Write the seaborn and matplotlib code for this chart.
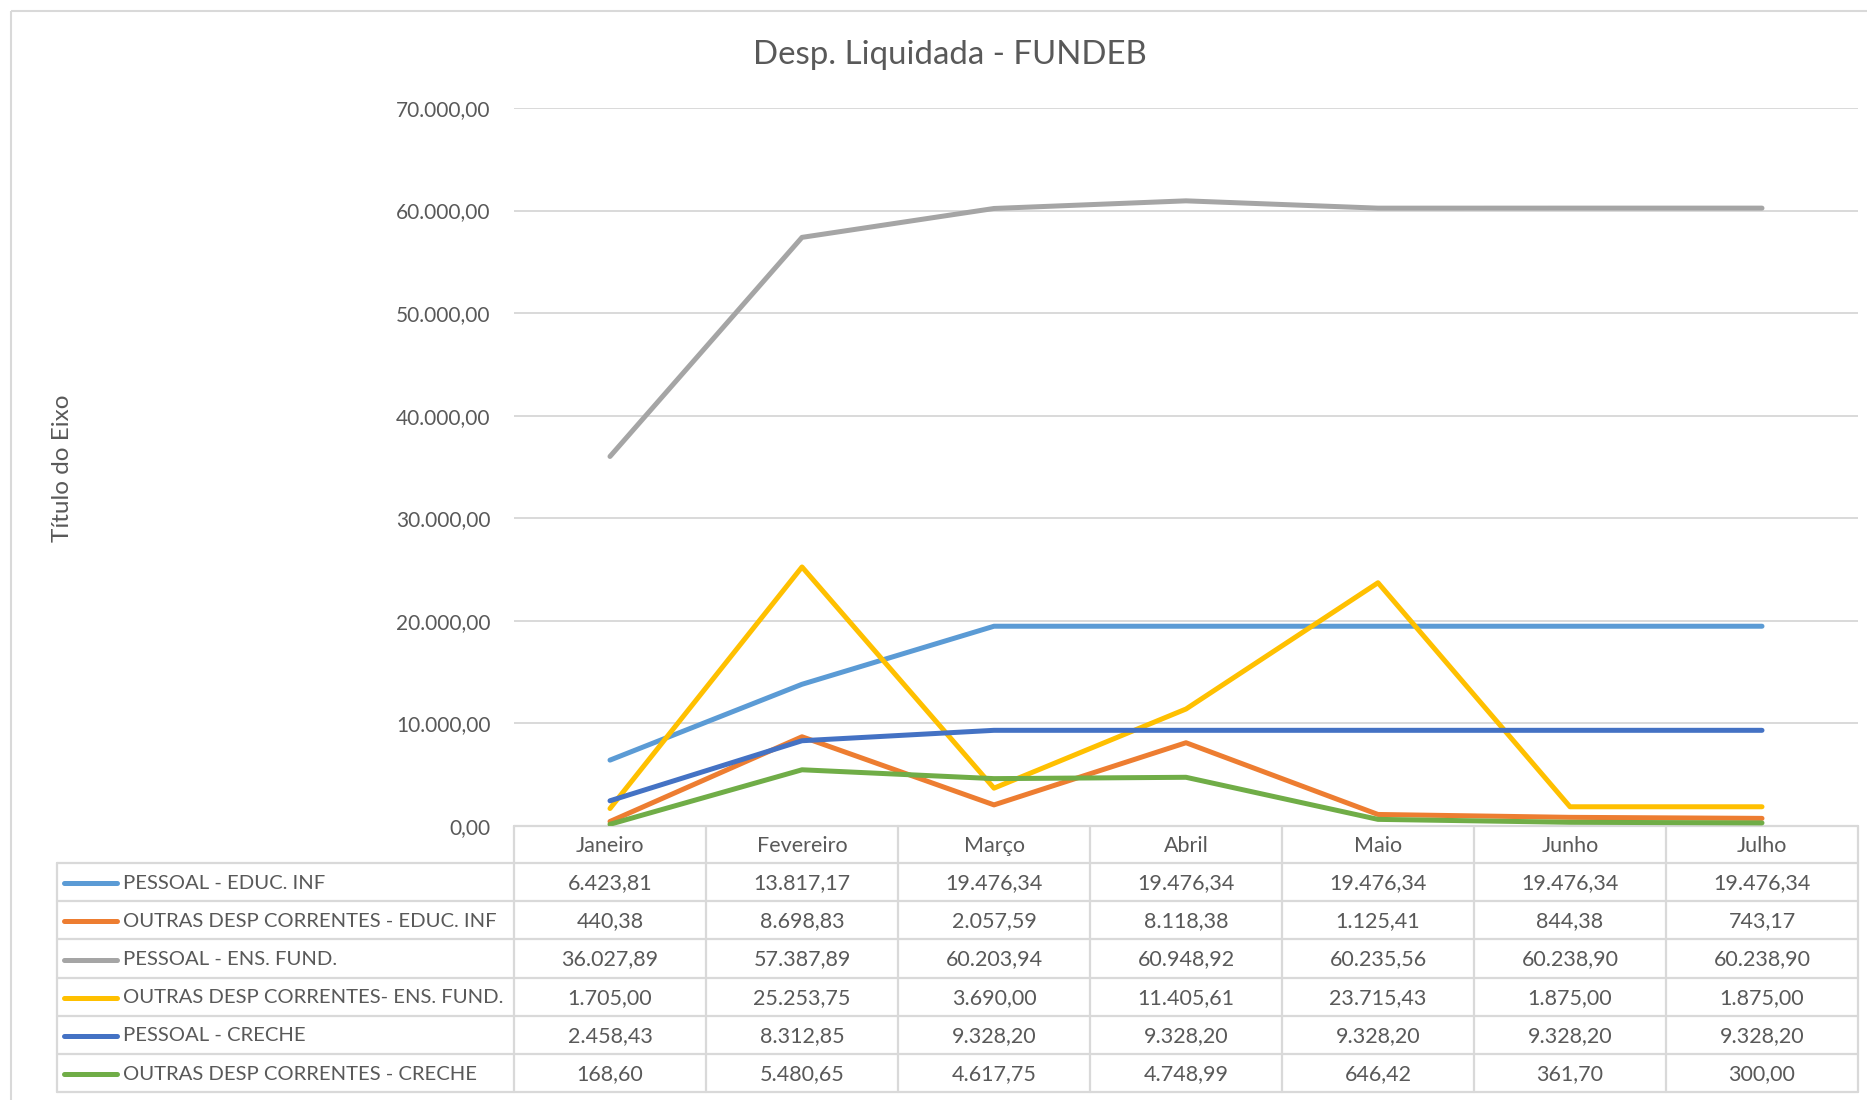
import matplotlib
matplotlib.use("Agg")
import matplotlib.pyplot as plt
import numpy as np
import pandas as pd
import seaborn as sns
from matplotlib.patches import Rectangle
from matplotlib.ticker import FuncFormatter

meses = ["Janeiro", "Fevereiro", "Março", "Abril", "Maio", "Junho", "Julho"]

series = ["PESSOAL - EDUC. INF",
          "OUTRAS DESP CORRENTES - EDUC. INF",
          "PESSOAL - ENS. FUND.",
          "OUTRAS DESP CORRENTES- ENS. FUND.",
          "PESSOAL - CRECHE",
          "OUTRAS DESP CORRENTES - CRECHE"]

pessoal_educ_inf = [6423.81, 13817.17, 19476.34, 19476.34, 19476.34, 19476.34, 19476.34]
outras_educ_inf = [440.38, 8698.83, 2057.59, 8118.38, 1125.41, 844.38, 743.17]
pessoal_ens_fund = [36027.89, 57387.89, 60203.94, 60948.92, 60235.56, 60238.90, 60238.90]
outras_ens_fund = [1705.00, 25253.75, 3690.00, 11405.61, 23715.43, 1875.00, 1875.00]
pessoal_creche = [2458.43, 8312.85, 9328.20, 9328.20, 9328.20, 9328.20, 9328.20]
outras_creche = [168.60, 5480.65, 4617.75, 4748.99, 646.42, 361.70, 300.00]

valores = [pessoal_educ_inf, outras_educ_inf, pessoal_ens_fund,
           outras_ens_fund, pessoal_creche, outras_creche]

cores = ["#5B9BD5", "#ED7D31", "#A5A5A5", "#FFC000", "#4472C4", "#70AD47"]

yticks = [0, 10000, 20000, 30000, 40000, 50000, 60000, 70000]


def br(v):
    # formato pt-BR: 1.234,56
    s = f"{v:,.2f}"
    return s.replace(",", "X").replace(".", ",").replace("X", ".")


# long form para o seaborn
linhas = []
for nome, vals in zip(series, valores):
    for i, v in enumerate(vals):
        linhas.append({"serie": nome, "pos": i, "mes": meses[i], "valor": v})
df = pd.DataFrame(linhas)

sns.set_theme(style="white")
plt.rcParams["font.family"] = ["Lato", "DejaVu Sans"]

TXT = "#595959"
GRADE = "#D9D9D9"
W, H = 1867, 1100

fig = plt.figure(figsize=(W / 100, H / 100), dpi=100)

# camada de fundo em pixels: borda e tabela de dados
tab = fig.add_axes([0, 0, 1, 1])
tab.set_xlim(0, W)
tab.set_ylim(H, 0)
tab.axis("off")
tab.add_patch(Rectangle((11, 11), W + 20, H + 20, fill=False,
                        edgecolor=GRADE, lw=1.5))

x0, larg = 514, 192          # inicio da area de plotagem e largura de cada mes
x_tab = 57
y_eixo, y_cab = 826, 863
alt = 38.2
x_fim = x0 + larg * len(meses)
y_fim = y_cab + alt * len(series)

tab.plot([x0, x_fim], [y_eixo, y_eixo], color=GRADE, lw=1.6)
for r in range(len(series) + 1):
    yy = y_cab + alt * r
    tab.plot([x_tab, x_fim], [yy, yy], color=GRADE, lw=1.6)
tab.plot([x_tab, x_tab], [y_cab, y_fim], color=GRADE, lw=1.6)
for k in range(len(meses) + 1):
    xx = x0 + larg * k
    tab.plot([xx, xx], [y_eixo, y_fim], color=GRADE, lw=1.6)

for k, m in enumerate(meses):
    tab.text(x0 + larg * (k + 0.5), (y_eixo + y_cab) / 2 + 1, m, ha="center",
             va="center", fontsize=15.5, color=TXT)

for r, (nome, vals, c) in enumerate(zip(series, valores, cores)):
    yc = y_cab + alt * (r + 0.5) + 1
    tab.plot([64, 117], [yc, yc], color=c, lw=3.6, solid_capstyle="round")
    tab.text(123, yc, nome, ha="left", va="center", fontsize=14.6, color=TXT)
    for k, v in enumerate(vals):
        tab.text(x0 + larg * (k + 0.5), yc, br(v), ha="center", va="center",
                 fontsize=15.5, color=TXT)

# grafico de linhas
ax = fig.add_axes([x0 / W, 1 - y_eixo / H, (x_fim - x0) / W, (y_eixo - 108) / H])
ax.set_facecolor("none")
sns.lineplot(data=df, x="pos", y="valor", hue="serie", hue_order=series,
             palette=dict(zip(series, cores)), linewidth=3.6, legend=False,
             solid_capstyle="round", ax=ax)

ax.set_xlim(-0.5, len(meses) - 0.5)
ax.set_ylim(0, 70000)
ax.set_yticks(yticks)
ax.yaxis.set_major_formatter(FuncFormatter(lambda v, p: br(v)))
ax.set_xticks([])
ax.set_xlabel("")
ax.set_ylabel("")
ax.grid(axis="y", color=GRADE, lw=1.4)
ax.set_axisbelow(True)
for s in ax.spines.values():
    s.set_visible(False)
ax.tick_params(axis="y", length=0, pad=17, labelsize=15, labelcolor=TXT)

fig.text(950 / W, 1 - 55 / H, "Desp. Liquidada - FUNDEB", ha="center",
         va="center", fontsize=23.8, color=TXT)
fig.text(62 / W, 1 - 468 / H, "Título do Eixo", rotation=90, ha="center",
         va="center", fontsize=17.5, color=TXT)

fig.savefig("out.png", dpi=100, facecolor="white")
